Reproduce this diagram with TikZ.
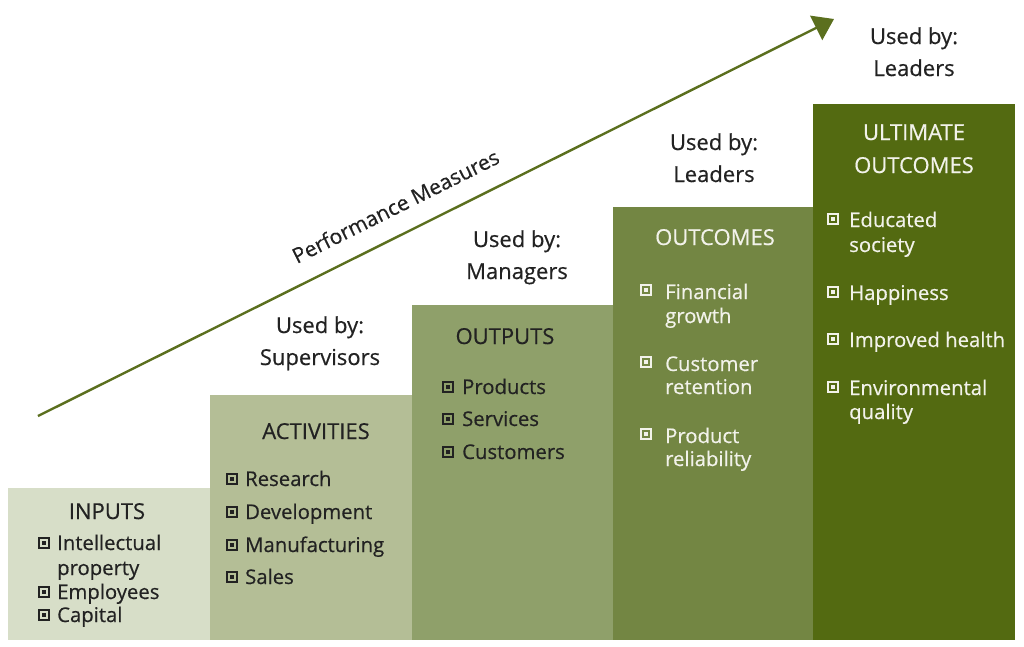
\documentclass[tikz,border=0pt]{standalone}
\usepackage{fontspec}
\setmainfont[FakeBold=0.5]{Open Sans}
\usetikzlibrary{arrows.meta}
\definecolor{cA}{HTML}{D7DEC8}
\definecolor{cB}{HTML}{B4BE96}
\definecolor{cC}{HTML}{8FA06A}
\definecolor{cD}{HTML}{738643}
\definecolor{cE}{HTML}{536A11}
\definecolor{arr}{HTML}{5B6F1E}
\definecolor{dk}{HTML}{222222}
\definecolor{lt}{HTML}{F2F2EA}
\tikzset{
  bar/.style={anchor=north west, inner sep=0pt, outer sep=0pt, draw=none},
  txt/.style={inner sep=0pt, font=\fontsize{20.3}{22}\selectfont},
  big/.style={inner sep=0pt, font=\fontsize{22}{24}\selectfont},
  ttl/.style={big, anchor=base, yshift=-7pt},
  itm/.style={txt, anchor=base west, yshift=-7pt},
  bul/.style={inner sep=0pt, anchor=center, minimum size=10.5pt, line width=1.7pt, draw=#1,
    path picture={\fill[#1] ([shift={(-1.7pt,-1.7pt)}]path picture bounding box.center) rectangle ([shift={(1.7pt,1.7pt)}]path picture bounding box.center);}},
  usedby/.style={big, anchor=base, yshift=-7pt, text=dk},
}
\begin{document}
\begin{tikzpicture}[x=1pt,y=-1pt]
\useasboundingbox (0,0) rectangle (1024,646);
% bars
\node[bar, fill=cA, minimum width=202pt, minimum height=152pt] (b1) at (8,488) {};
\node[bar, fill=cB, minimum width=202pt, minimum height=245pt] (b2) at (210,395) {};
\node[bar, fill=cC, minimum width=201pt, minimum height=335pt] (b3) at (412,305) {};
\node[bar, fill=cD, minimum width=200pt, minimum height=433pt] (b4) at (613,207) {};
\node[bar, fill=cE, minimum width=202pt, minimum height=536pt] (b5) at (813,104) {};
% arrow
\coordinate (as) at (38,416);
\coordinate (ae) at (834,19);
\draw[arr, line width=2.4pt, -{Triangle[length=20pt, width=27pt]}] (as) -- node[sloped, above=19pt, pos=0.465, inner sep=0pt, font=\fontsize{21}{24}\selectfont, text=dk] (pm) {Performance Measures} (ae);
% used by
\node[usedby] (u2a) at (320,326) {Used by:};
\node[usedby] (u2b) at (320,358) {Supervisors};
\node[usedby] (u3a) at (517,240) {Used by:};
\node[usedby] (u3b) at (517,272) {Managers};
\node[usedby] (u4a) at (714,143) {Used by:};
\node[usedby] (u4b) at (714,175) {Leaders};
\node[usedby] (u5a) at (914,37) {Used by:};
\node[usedby] (u5b) at (914,69) {Leaders};
% bar 1
\begin{scope}[every node/.append style={text=dk}]
\node[ttl] (t1) at (107,512) {INPUTS};
\node[bul=dk] (p1a) at (44,543) {}; \node[itm] (i1a) at (57,543) {Intellectual};
\node[itm] (i1b) at (57,568) {property};
\node[bul=dk] (p1c) at (44,592) {}; \node[itm] (i1c) at (57,592) {Employees};
\node[bul=dk] (p1d) at (44,615) {}; \node[itm] (i1d) at (57,615) {Capital};
% bar 2
\node[ttl] (t2) at (316,432) {ACTIVITIES};
\node[bul=dk] (p2a) at (232,479) {}; \node[itm] (i2a) at (245,479) {Research};
\node[bul=dk] (p2b) at (232,512) {}; \node[itm] (i2b) at (245,512) {Development};
\node[bul=dk] (p2c) at (232,545) {}; \node[itm] (i2c) at (245,545) {Manufacturing};
\node[bul=dk] (p2d) at (232,577) {}; \node[itm] (i2d) at (245,577) {Sales};
% bar 3
\node[ttl] (t3) at (505,337) {OUTPUTS};
\node[bul=dk] (p3a) at (448,387) {}; \node[itm] (i3a) at (462,387) {Products};
\node[bul=dk] (p3b) at (448,419) {}; \node[itm] (i3b) at (462,419) {Services};
\node[bul=dk] (p3c) at (448,452) {}; \node[itm] (i3c) at (462,452) {Customers};
\end{scope}
% bar 4
\begin{scope}[every node/.append style={text=lt}]
\node[ttl] (t4) at (715,238) {OUTCOMES};
\node[bul=lt] (p4a) at (646,290) {}; \node[itm] (i4a) at (665,292) {Financial};
\node[itm] (i4b) at (665,316) {growth};
\node[bul=lt] (p4c) at (646,362) {}; \node[itm] (i4c) at (665,364) {Customer};
\node[itm] (i4d) at (665,387) {retention};
\node[bul=lt] (p4e) at (646,434) {}; \node[itm] (i4e) at (665,436) {Product};
\node[itm] (i4f) at (665,459) {reliability};
% bar 5
\node[ttl] (t5a) at (914,133) {ULTIMATE};
\node[ttl] (t5b) at (914,166) {OUTCOMES};
\node[bul=lt] (p5a) at (833,219) {}; \node[itm] (i5a) at (849,220) {Educated};
\node[itm] (i5b) at (849,245) {society};
\node[bul=lt] (p5c) at (833,292) {}; \node[itm] (i5c) at (849,293) {Happiness};
\node[bul=lt] (p5d) at (833,339) {}; \node[itm] (i5d) at (849,340) {Improved health};
\node[bul=lt] (p5e) at (833,387) {}; \node[itm] (i5e) at (849,388) {Environmental};
\node[itm] (i5f) at (849,412) {quality};
\end{scope}
\end{tikzpicture}
\end{document}
